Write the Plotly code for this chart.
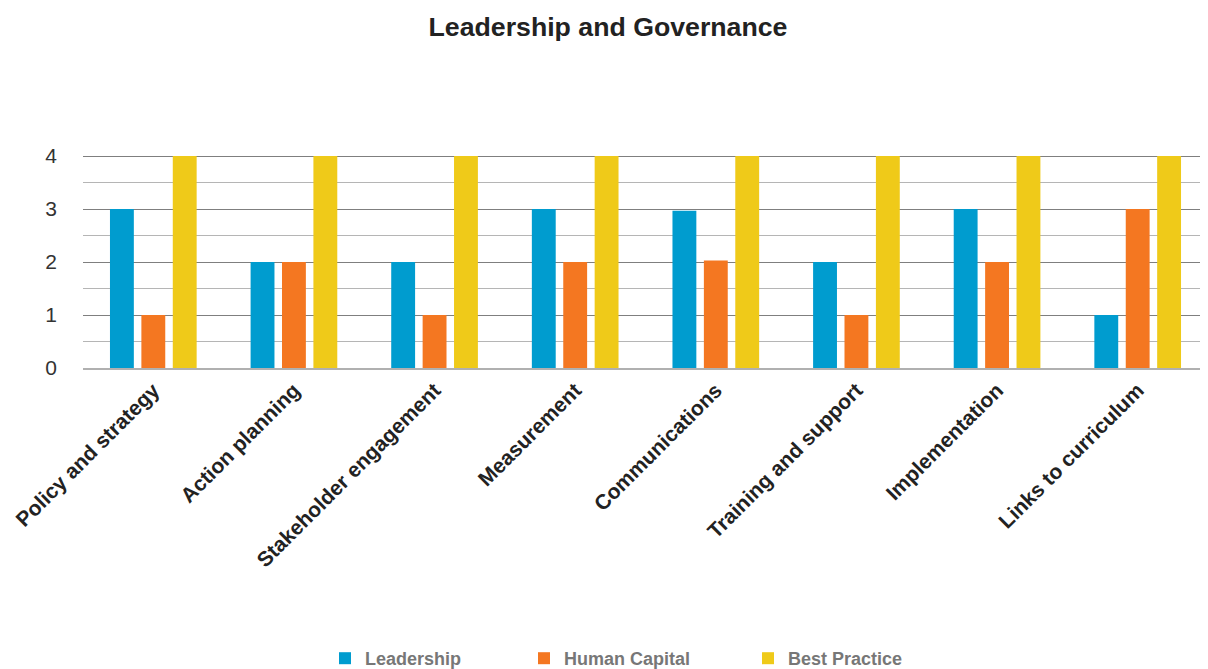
import plotly.graph_objects as go

categories = ["Policy and strategy", "Action planning", "Stakeholder engagement", "Measurement",
              "Communications", "Training and support", "Implementation", "Links to curriculum"]
leadership = [3, 2, 2, 3, 2.97, 2, 3, 1]
human_capital = [1, 2, 1, 2, 2.03, 1, 2, 3]
best_practice = [4, 4, 4, 4, 4, 4, 4, 4]
series_names = ["Leadership", "Human Capital", "Best Practice"]
colors = ["#009ccf", "#f47721", "#efca19"]

# the page body has an 8px margin, so the figure is drawn 8px right/down
OFF = 8
W, H = 1208 - OFF, 669 - OFF
L, R, T = 83 - OFF, 0, 155 - OFF
plot_bottom = 368 - OFF
B = H - plot_bottom
plot_w = W - L - R
plot_h = H - T - B
legend_px = [339, 538, 762]  # page x of legend symbols' left edges

fig = go.Figure()
legend_ids = ["legend", "legend2", "legend3"]
for name, vals, col, lid in zip(series_names, [leadership, human_capital, best_practice], colors, legend_ids):
    fig.add_trace(go.Bar(x=categories, y=vals, name="<b>%s</b>" % name, marker_color=col,
                         marker_line_width=0, legend=lid))

legend_common = dict(orientation="h", yanchor="bottom", y=(plot_bottom - H - 8) / plot_h,
                     xanchor="left", bgcolor="rgba(0,0,0,0)", borderwidth=0,
                     font=dict(size=18, color="#777777", family="Liberation Sans, Arial"),
                     itemclick=False, itemdoubleclick=False)
layout_legends = {}
for lid, px in zip(legend_ids, legend_px):
    layout_legends[lid] = dict(legend_common, x=(px - OFF - L - 14) / plot_w)

fig.update_layout(
    width=W, height=H,
    paper_bgcolor="white", plot_bgcolor="white",
    margin=dict(l=L, r=R, t=T, b=B, autoexpand=False),
    barmode="group", bargap=0.33, bargroupgap=0.24,
    title=dict(text="<b>Leadership and Governance</b>", x=0.5, xanchor="center",
               y=1 - (27 - OFF) / H, yanchor="middle", yref="container",
               font=dict(family="Liberation Sans, Arial", size=26.7, color="#222222")),
    font=dict(family="Liberation Sans, Arial"),
    showlegend=True,
    **layout_legends,
)
fig.update_yaxes(range=[0, 4.02], tickvals=[0, 1, 2, 3, 4], showline=False, zeroline=False,
                 automargin=False,
                 gridcolor="#7f7f7f", gridwidth=1.2, ticks="", ticklabelstandoff=25,
                 tickfont=dict(size=21, color="#333333"),
                 minor=dict(dtick=0.5, tick0=0, showgrid=True, gridcolor="#b5b5b5", gridwidth=1.2))
fig.update_xaxes(tickangle=-45, showline=True, linecolor="#b0b0b0", linewidth=1.5, automargin=False,
                 tickvals=categories, ticktext=["<b>%s</b>" % c for c in categories],
                 tickfont=dict(size=21, color="#222222", family="Liberation Sans, Arial"))

fig.write_html("out.html")
